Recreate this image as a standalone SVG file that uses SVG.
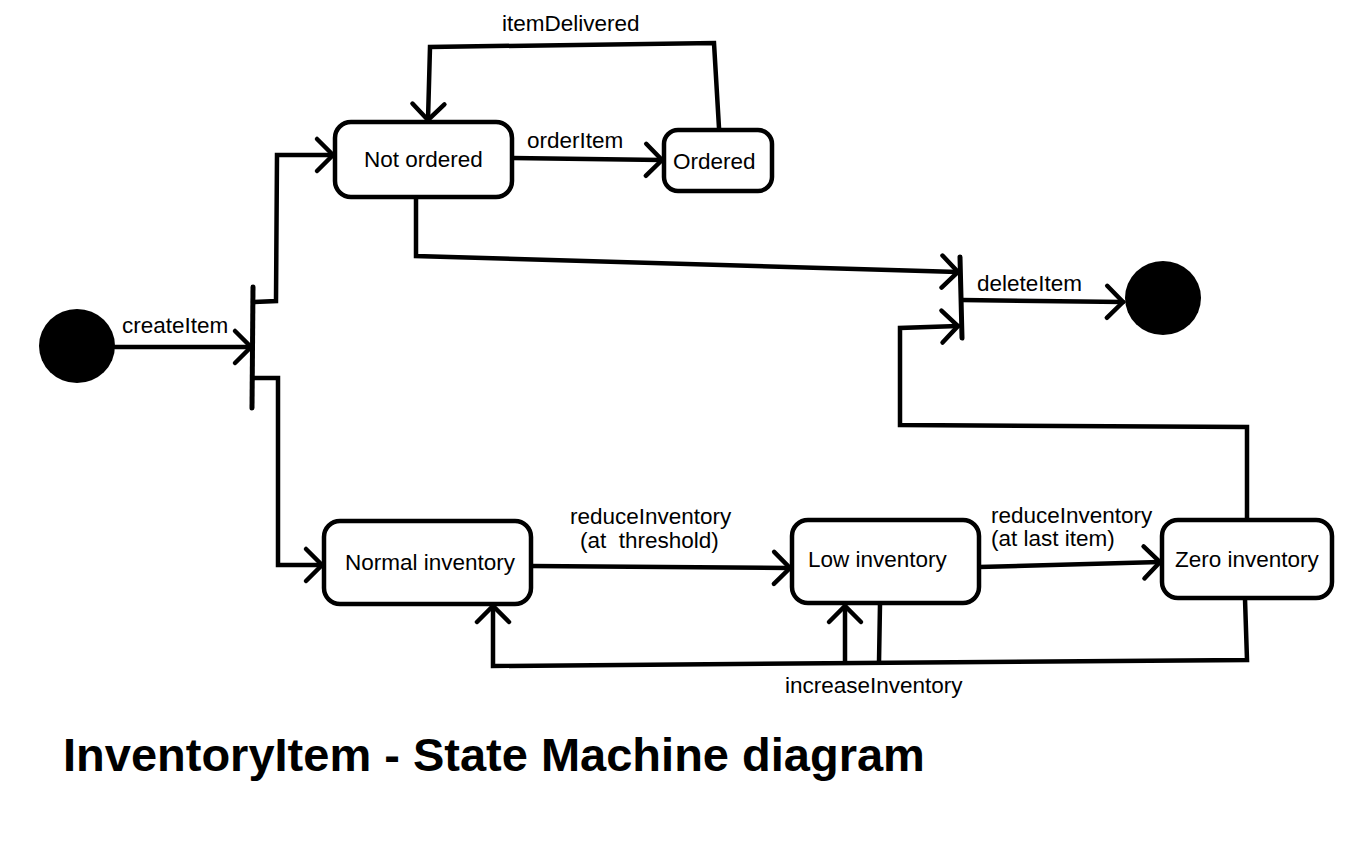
<svg xmlns="http://www.w3.org/2000/svg" width="1367" height="857" viewBox="0 0 1367 857">
<style>
.st{fill:#fff;stroke:#000;stroke-width:4.5}
.lb{font-family:"Liberation Sans",Arial,sans-serif;font-size:22.5px;fill:#000}
.ln{fill:none;stroke:#000;stroke-width:4.5;stroke-linejoin:miter;stroke-linecap:round}
.bar{fill:none;stroke:#000;stroke-width:5;stroke-linecap:round}
.title{font-family:"Liberation Sans",Arial,sans-serif;font-size:47px;font-weight:bold;fill:#000}
</style>
<defs>
<marker id="arr" markerUnits="userSpaceOnUse" markerWidth="40" markerHeight="40" viewBox="-20 -20 40 40" refX="0" refY="0" orient="auto" overflow="visible">
<path d="M-16,-16 L0,0 L-16,16" fill="none" stroke="#000" stroke-width="4.5" stroke-linecap="round"/>
</marker>
</defs>
<rect width="1367" height="857" fill="#fff"/>
<g id="connectors">
<path class="ln" d="M115,347 L251,347" marker-end="url(#arr)"/>
<path class="ln" d="M253,302 L276,301 L277,155 L333,155" marker-end="url(#arr)"/>
<path class="ln" d="M253,378 L278,378 L278,565 L322,565" marker-end="url(#arr)"/>
<path class="ln" d="M512,158 L662,160" marker-end="url(#arr)"/>
<text class="lb" x="527" y="148">orderItem</text>
<path class="ln" d="M719,128 L714,43 L430,47 L428,120" marker-end="url(#arr)"/>
<text class="lb" x="502" y="31">itemDelivered</text>
<path class="ln" d="M416,198 L416,256 L958,272" marker-end="url(#arr)"/>
<path class="ln" d="M1247,519 L1247,427 L900,425 L900,328 L958,326" marker-end="url(#arr)"/>
<path class="ln" d="M962,300 L1123,302" marker-end="url(#arr)"/>
<text class="lb" x="977" y="291">deleteItem</text>
<text class="lb" x="122" y="333">createItem</text>
<path class="ln" d="M531,566 L790,568" marker-end="url(#arr)"/>
<text class="lb" x="570" y="524">reduceInventory</text>
<text class="lb" x="580" y="548" xml:space="preserve">(at  threshold)</text>
<path class="ln" d="M979,567 L1160,562" marker-end="url(#arr)"/>
<text class="lb" x="991" y="523">reduceInventory</text>
<text class="lb" x="991" y="546">(at last item)</text>
<path class="ln" d="M1245,599 L1247,660 L493,666 L493,606" marker-end="url(#arr)"/>
<path class="ln" d="M880,604 L879,662"/>
<path class="ln" d="M845,662 L845,606" marker-end="url(#arr)"/>
<text class="lb" x="785" y="693">increaseInventory</text>
</g>
<g id="initial"><ellipse cx="77" cy="346" rx="38" ry="37" fill="#000"/></g>
<g id="fork"><path class="bar" d="M253,287 L252,408"/></g>
<g id="join"><path class="bar" d="M960,257 L962,338"/></g>
<g id="final"><ellipse cx="1163" cy="298" rx="38" ry="37" fill="#000"/></g>
<g id="notOrdered">
<rect class="st" x="335" y="122" width="177" height="75" rx="16"/>
<text class="lb" x="364" y="167">Not ordered</text>
</g>
<g id="ordered">
<rect class="st" x="664" y="130" width="108" height="61" rx="14"/>
<text class="lb" x="673" y="169">Ordered</text>
</g>
<g id="normalInventory">
<rect class="st" x="324" y="521" width="207" height="83" rx="16"/>
<text class="lb" x="345" y="570">Normal inventory</text>
</g>
<g id="lowInventory">
<rect class="st" x="792" y="520" width="187" height="83" rx="16"/>
<text class="lb" x="808" y="567">Low inventory</text>
</g>
<g id="zeroInventory">
<rect class="st" x="1162" y="520" width="170" height="78" rx="16"/>
<text class="lb" x="1175" y="567">Zero inventory</text>
</g>
<text class="title" x="63" y="771">InventoryItem - State Machine diagram</text>
</svg>
